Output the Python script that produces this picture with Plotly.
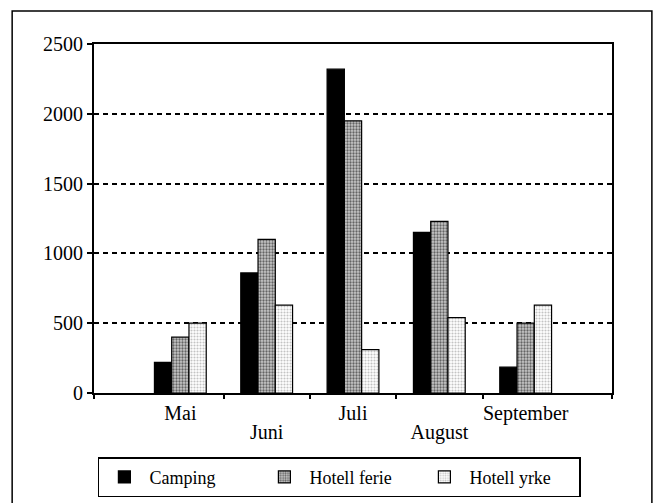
import plotly.graph_objects as go

# data
months = ["Mai", "Juni", "Juli", "August", "September"]
positions = [1, 2, 3, 4, 5]
upper_pos = [1, 3, 5]
upper_labels = ["Mai", "Juli", "September"]
lower_pos = [2, 4]
lower_labels = ["Juni", "August"]
boundaries = [0, 1.5, 2.5, 3.5, 4.5, 6]
camping = [220, 860, 2320, 1150, 185]
hotell_ferie = [400, 1100, 1950, 1230, 500]
hotell_yrke = [500, 630, 310, 540, 630]

font_family = "Liberation Serif, Times New Roman, serif"

fig = go.Figure()

fig.add_trace(go.Bar(
    x=positions, y=camping, name="Camping",
    marker=dict(color="black", line=dict(color="black", width=1.2)),
))
fig.add_trace(go.Bar(
    x=positions, y=hotell_ferie, name="Hotell ferie",
    marker=dict(color="#9a9a9a", line=dict(color="black", width=1.2),
                pattern=dict(shape=".", fgcolor="black", bgcolor="#c8c8c8",
                             size=3, solidity=0.45)),
))
fig.add_trace(go.Bar(
    x=positions, y=hotell_yrke, name="Hotell yrke",
    marker=dict(color="#dcdcdc", line=dict(color="black", width=1.2),
                pattern=dict(shape=".", fgcolor="#888888", bgcolor="white",
                             size=3, solidity=0.4)),
))

# invisible traces so the extra x axes get drawn
for ax in ["x2", "x3"]:
    fig.add_trace(go.Scatter(x=[0, 6], y=[0, 0], xaxis=ax, mode="lines",
                             line=dict(width=0), showlegend=False, hoverinfo="skip"))

fig.update_layout(
    width=659, height=503,
    margin=dict(l=94, r=47, t=44, b=110),
    paper_bgcolor="white", plot_bgcolor="white",
    font=dict(family=font_family, size=20, color="black"),
    barmode="group", bargap=0.4, bargroupgap=0,
    showlegend=True,
    legend=dict(
        orientation="h", xref="container", x=0.515, xanchor="center",
        yref="container", y=0.091, yanchor="top",
        bordercolor="black", borderwidth=1.5, bgcolor="white",
        font=dict(family=font_family, size=18), itemwidth=40,
        traceorder="normal", entrywidth=105,
    ),
    xaxis=dict(
        range=[0, 6], tickvals=upper_pos, ticktext=upper_labels,
        ticks="", showgrid=False, zeroline=False,
        showline=True, linecolor="black", linewidth=2, mirror=True,
        ticklabelstandoff=1,
    ),
    xaxis2=dict(
        range=[0, 6], overlaying="x", side="bottom", anchor="y",
        tickvals=boundaries, showticklabels=False,
        ticks="outside", ticklen=5, tickwidth=2, tickcolor="black",
        showgrid=False, zeroline=False, showline=False,
    ),
    xaxis3=dict(
        range=[0, 6], overlaying="x", side="bottom", anchor="y",
        tickvals=lower_pos, ticktext=lower_labels, ticks="",
        showgrid=False, zeroline=False, showline=False,
        ticklabelstandoff=25,
    ),
    yaxis=dict(
        range=[0, 2500], tickvals=[0, 500, 1000, 1500, 2000, 2500],
        ticks="outside", ticklen=5, tickwidth=2, tickcolor="black",
        showgrid=True, gridcolor="black", gridwidth=1.8, griddash="5px,4px",
        zeroline=False, showline=True, linecolor="black", linewidth=2,
        mirror=True, ticklabelstandoff=0,
    ),
    shapes=[dict(
        type="rect", xref="paper", yref="paper",
        x0=-0.158, x1=1.077, y0=-0.34, y1=1.0946,
        line=dict(color="black", width=1.5), layer="below",
    )],
)

fig.write_html("out.html", config={"displayModeBar": False},
               post_script="document.body.style.margin='0';")
